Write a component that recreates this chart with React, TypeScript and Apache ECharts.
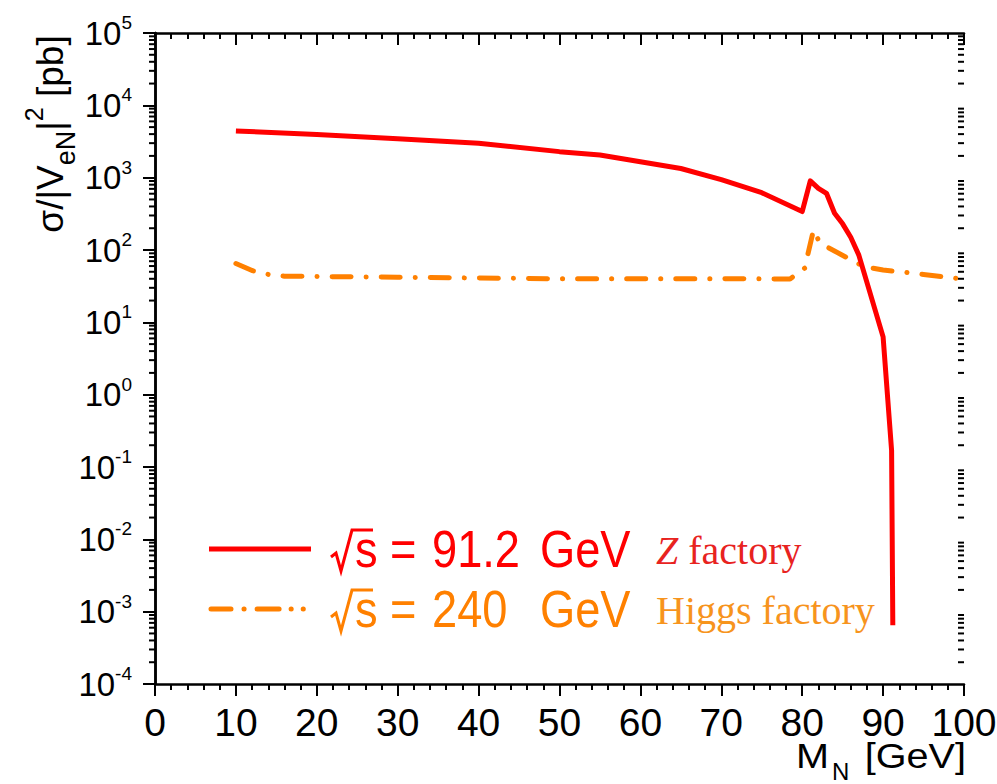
import React, { useEffect, useRef } from "react";
import * as echarts from "echarts";

// Z factory (sqrt(s) = 91.2 GeV)
const zMass = [10, 20, 30, 40, 50, 55, 60, 65, 70, 75, 80, 81, 82, 83, 84, 85, 86, 87, 90, 91.05, 91.2];
const zSigma = [4420, 3950, 3450, 3000, 2290, 2060, 1660, 1340, 940, 620, 340, 905, 713, 608, 322, 230, 150, 85, 6.3, 0.17, 0.00065];

// Higgs factory (sqrt(s) = 240 GeV)
const hMass = [10, 12, 14, 16, 20, 30, 40, 50, 60, 70, 78.5, 80.3, 81.4, 82.2, 87.6, 90, 95, 100];
const hSigma = [65, 52, 46, 43.5, 43, 42, 41, 40, 40, 40, 39.8, 56, 189, 124, 59, 53, 46, 39.5];

const xTicks = [0, 10, 20, 30, 40, 50, 60, 70, 80, 90, 100];
const yDecades = [-4, -3, -2, -1, 0, 1, 2, 3, 4, 5];

const FONT = "'Liberation Sans', Arial, sans-serif";
const SERIF = "'Liberation Serif', 'Times New Roman', serif";

export default function App() {
  const ref = useRef<HTMLDivElement>(null);

  useEffect(() => {
    if (!ref.current) return;
    const chart = echarts.init(ref.current, undefined, { renderer: "svg" });

    const yMin = Math.pow(10, yDecades[0]);
    const yMax = Math.pow(10, yDecades[yDecades.length - 1]);
    const xMin = xTicks[0];
    const xMax = xTicks[xTicks.length - 1];

    // minor log tick positions (axis decoration)
    const minorVals: number[][] = [];
    for (let i = 0; i < yDecades.length - 1; i++) {
      for (let k = 2; k <= 9; k++) minorVals.push([xMin, k * Math.pow(10, yDecades[i])]);
    }

    const axisLine = { show: true, lineStyle: { color: "#000", width: 2.5 } };

    const legendText = (text: string, x: number, y: number, color: string) => ({
      type: "text",
      x,
      y,
      scaleX: 0.87,
      style: { text, fontSize: 52, fontFamily: FONT, fill: color, align: "left", verticalAlign: "middle" },
    });

    const option: any = {
      animation: false,
      backgroundColor: "#fff",
      grid: { left: 155, right: 33, top: 33, bottom: 100, containLabel: false, outerBoundsMode: "none" },
      xAxis: [
        {
          type: "value",
          position: "bottom",
          min: xMin,
          max: xMax,
          interval: 10,
          axisLine,
          axisTick: { show: true, inside: false, length: 12, lineStyle: { color: "#000", width: 2 } },
          minorTick: { show: true, splitNumber: 5, length: 6, lineStyle: { color: "#000", width: 2 } },
          splitLine: { show: false },
          axisLabel: {
            show: true,
            margin: 25,
            fontSize: 39,
            lineHeight: 26,
            fontFamily: FONT,
            color: "#000",
            showMinLabel: true,
            showMaxLabel: true,
          },
        },
        {
          type: "value",
          position: "top",
          min: xMin,
          max: xMax,
          interval: 10,
          axisLine,
          axisTick: { show: true, inside: true, length: 12, lineStyle: { color: "#000", width: 2 } },
          minorTick: { show: true, splitNumber: 5, length: 6, lineStyle: { color: "#000", width: 2 } },
          splitLine: { show: false },
          axisLabel: { show: false },
        },
      ],
      yAxis: [
        {
          type: "log",
          logBase: 10,
          position: "left",
          min: yMin,
          max: yMax,
          splitNumber: 9,
          axisLine,
          axisTick: { show: true, inside: false, length: 12, lineStyle: { color: "#000", width: 2 } },
          splitLine: { show: false },
          axisLabel: {
            show: true,
            margin: 23,
            fontSize: 33,
            lineHeight: 40,
            fontFamily: FONT,
            color: "#000",
            showMinLabel: true,
            showMaxLabel: true,
            formatter: (v: number) => "10{s|" + Math.round(Math.log10(v)) + "}",
            rich: {
              s: { fontSize: 19, lineHeight: 20, verticalAlign: "top", fontFamily: FONT, color: "#000" },
            },
          },
        },
        {
          type: "log",
          logBase: 10,
          position: "right",
          min: yMin,
          max: yMax,
          splitNumber: 9,
          axisLine,
          axisTick: { show: true, inside: true, length: 12, lineStyle: { color: "#000", width: 2 } },
          splitLine: { show: false },
          axisLabel: { show: false },
        },
      ],
      series: [
        {
          type: "custom",
          xAxisIndex: 0,
          yAxisIndex: 0,
          silent: true,
          clip: false,
          z: 5,
          encode: { x: 0, y: 1 },
          data: minorVals,
          renderItem: (_params: any, api: any) => {
            const v = api.value(1);
            const l = api.coord([xMin, v]);
            const r = api.coord([xMax, v]);
            return {
              type: "group",
              children: [
                { type: "line", shape: { x1: l[0] - 6, y1: l[1], x2: l[0], y2: l[1] }, style: { stroke: "#000", lineWidth: 2 } },
                { type: "line", shape: { x1: r[0] - 6, y1: r[1], x2: r[0], y2: r[1] }, style: { stroke: "#000", lineWidth: 2 } },
              ],
            };
          },
        },
        {
          type: "line",
          name: "Higgs",
          xAxisIndex: 0,
          yAxisIndex: 0,
          data: hMass.map((m, i) => [m, hSigma[i]]),
          symbol: "none",
          z: 3,
          lineStyle: { color: "#ff8000", width: 5, type: [19, 15, 0.1, 15], cap: "round", join: "round" },
        },
        {
          type: "line",
          name: "Z",
          xAxisIndex: 0,
          yAxisIndex: 0,
          data: zMass.map((m, i) => [m, zSigma[i]]),
          symbol: "none",
          z: 4,
          lineStyle: { color: "#ff0000", width: 5, join: "round" },
        },
      ],
      graphic: [
        // y axis title
        {
          type: "text",
          x: 50,
          y: 134,
          rotation: Math.PI / 2,
          style: {
            text: "{m|σ/|V}{sb|eN}{m||}{sp|2}{m| [pb]}",
            align: "center",
            verticalAlign: "middle",
            fill: "#000",
            rich: {
              m: { fontSize: 37, lineHeight: 58, fontFamily: FONT, fill: "#000" },
              sb: { fontSize: 27, lineHeight: 32, verticalAlign: "bottom", fontFamily: FONT, fill: "#000" },
              sp: { fontSize: 25, lineHeight: 40, verticalAlign: "top", fontFamily: FONT, fill: "#000" },
            },
          },
        },
        // x axis title
        { type: "text", x: 796, y: 756, scaleX: 1.1, style: { text: "M", fontSize: 36, lineHeight: 30, fontFamily: FONT, fill: "#000", align: "left", verticalAlign: "middle" } },
        { type: "text", x: 832, y: 771, style: { text: "N", fontSize: 24, lineHeight: 20, fontFamily: FONT, fill: "#000", align: "left", verticalAlign: "middle" } },
        { type: "text", x: 966, y: 756, scaleX: 1.1, style: { text: "[GeV]", fontSize: 36, lineHeight: 30, fontFamily: FONT, fill: "#000", align: "right", verticalAlign: "middle" } },
        // legend: Z factory
        { type: "line", shape: { x1: 209, y1: 549, x2: 311, y2: 549 }, style: { stroke: "#ff0000", lineWidth: 5 } },
        {
          type: "polyline",
          shape: { points: [[331, 557], [336, 553], [341, 571], [352, 530], [373, 530]] },
          style: { stroke: "#ff0000", lineWidth: 3, fill: null },
        },
        legendText("s", 355, 549, "#ff0000"),
        legendText("=", 390, 549, "#ff0000"),
        legendText("91.2", 432, 549, "#ff0000"),
        legendText("GeV", 540, 549, "#ff0000"),
        {
          type: "text",
          x: 656,
          y: 550,
          style: {
            text: "{i|Z} factory",
            fontSize: 40,
            fontFamily: SERIF,
            fill: "#e8231f",
            align: "left",
            verticalAlign: "middle",
            rich: { i: { fontSize: 40, fontFamily: SERIF, fontStyle: "italic", fill: "#e8231f" } },
          },
        },
        // legend: Higgs factory
        {
          type: "line",
          shape: { x1: 211, y1: 609, x2: 311, y2: 609 },
          style: { stroke: "#ff8000", lineWidth: 5, lineCap: "round", lineDash: [20, 13, 0.1, 13, 22, 12, 0.1, 12, 0.1, 40] },
        },
        {
          type: "polyline",
          shape: { points: [[331, 617], [336, 613], [341, 631], [352, 590], [373, 590]] },
          style: { stroke: "#ff8000", lineWidth: 3, fill: null },
        },
        legendText("s", 355, 609, "#ff8000"),
        legendText("=", 390, 609, "#ff8000"),
        legendText("240", 432, 609, "#ff8000"),
        legendText("GeV", 540, 609, "#ff8000"),
        {
          type: "text",
          x: 656,
          y: 610,
          style: { text: "Higgs factory", fontSize: 40, fontFamily: SERIF, fill: "#f7941d", align: "left", verticalAlign: "middle" },
        },
      ],
    };

    chart.setOption(option);
    return () => chart.dispose();
  }, []);

  return <div ref={ref} style={{ position: "fixed", left: 0, top: 0, width: 997, height: 784, background: "#fff" }} />;
}
